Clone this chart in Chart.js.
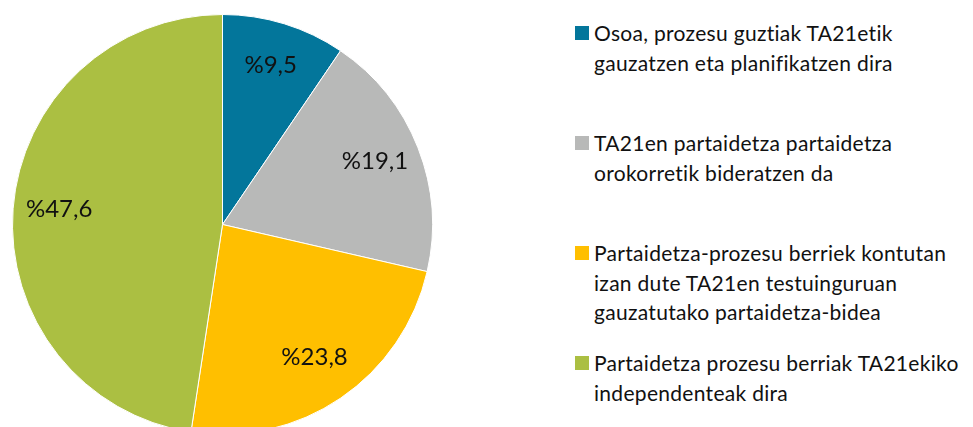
<!DOCTYPE html>
<html>
<head>
<meta charset="utf-8">
<script src="https://cdn.jsdelivr.net/npm/chart.js@4/dist/chart.umd.min.js"></script>
<style>
    html, body {
        margin: 0;
        padding: 0;
        background: #fff;
        overflow: hidden;
    }
    #page {
        position: relative;
        width: 973px;
        height: 427px;
        overflow: hidden;
        font-family: Lato, "Open Sans", sans-serif;
    }
    #pieBox {
        position: absolute;
        left: 12px;
        top: 14px;
        width: 421px;
        height: 421px;
    }
    #legend {
        position: absolute;
        left: 575px;
        top: 18px;
        width: 398px;
    }
    .item {
        display: flex;
        align-items: flex-start;
        height: 110px;
    }
    .box {
        width: 14px;
        height: 14px;
        margin-top: 8px;
        margin-right: 5px;
        flex: none;
    }
    .text {
        font-size: 21px;
        line-height: 29.5px;
        letter-spacing: 0.3px;
        color: #111;
        white-space: nowrap;
    }
</style>
</head>
<body>
<div id="page">
    <div id="pieBox"><canvas id="pieChart"></canvas></div>
    <div id="legend"></div>
</div>
<script>
// Data
const categories = [
    ["Osoa, prozesu guztiak TA21etik", "gauzatzen eta planifikatzen dira"],
    ["TA21en partaidetza partaidetza", "orokorretik bideratzen da"],
    ["Partaidetza-prozesu berriek kontutan", "izan dute TA21en testuinguruan", "gauzatutako partaidetza-bidea"],
    ["Partaidetza prozesu berriak TA21ekiko", "independenteak dira"],
];
const shares = [9.5, 19.1, 23.8, 47.6];
const colors = ["#03769b", "#b8b9b8", "#ffbf00", "#abbf42"];

// Legend (HTML, so the lines wrap like the original)
const legend = document.getElementById("legend");
categories.forEach((lines, i) => {
    const item = document.createElement("div");
    item.className = "item";
    const box = document.createElement("div");
    box.className = "box";
    box.style.background = colors[i];
    const text = document.createElement("div");
    text.className = "text";
    text.innerHTML = lines.join("<br>");
    item.appendChild(box);
    item.appendChild(text);
    legend.appendChild(item);
});

// Percent labels inside slices
const sliceLabels = {
    id: "sliceLabels",
    afterDatasetsDraw(chart) {
        const ctx = chart.ctx;
        const meta = chart.getDatasetMeta(0);
        ctx.save();
        ctx.font = "24px Lato, 'Open Sans', sans-serif";
        ctx.fillStyle = "#111";
        ctx.textAlign = "center";
        ctx.textBaseline = "middle";
        meta.data.forEach((arc, i) => {
            const p = arc.getProps(["x", "y", "startAngle", "endAngle", "outerRadius"], true);
            const mid = (p.startAngle + p.endAngle) / 2;
            const r = p.outerRadius * 0.78;
            const text = "%" + shares[i].toFixed(1).replace(".", ",");
            ctx.fillText(text, p.x + Math.cos(mid) * r, p.y + Math.sin(mid) * r - 3);
        });
        ctx.restore();
    },
};

const pieChart = document.getElementById("pieChart");
new Chart(pieChart, {
    type: "pie",
    data: {
        labels: categories,
        datasets: [
            {
                data: shares,
                backgroundColor: colors,
                borderColor: "#ffffff",
                borderWidth: 1,
            },
        ],
    },
    options: {
        responsive: true,
        maintainAspectRatio: false,
        animation: false,
        layout: { padding: 0 },
        plugins: {
            legend: { display: false },
            tooltip: { enabled: false },
        },
    },
    plugins: [sliceLabels],
});
</script>
</body>
</html>
